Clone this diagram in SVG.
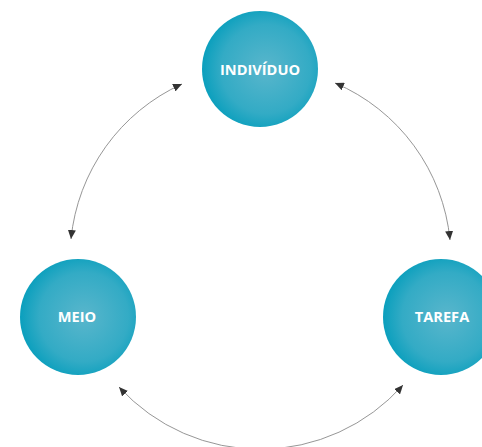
<svg xmlns="http://www.w3.org/2000/svg" width="482" height="447" viewBox="0 0 482 447">
  <style>
    .node circle { fill: url(#g); }
    .node text { font-family: "Open Sans", "Liberation Sans", sans-serif; font-weight: 700; font-size: 14.6px; fill: #ffffff; text-anchor: middle; }
    .conn path { fill: none; stroke: #8a8a8a; stroke-width: 0.9; marker-start: url(#ah); marker-end: url(#ah); }
  </style>
  <defs>
    <radialGradient id="g" cx="0.55" cy="0.5" r="0.55">
      <stop offset="0" stop-color="#59b6cc"/>
      <stop offset="0.7" stop-color="#33abc5"/>
      <stop offset="1" stop-color="#0a9fbd"/>
    </radialGradient>
    <marker id="ah" viewBox="0 0 9 8" refX="9" refY="4" markerWidth="9" markerHeight="8" markerUnits="userSpaceOnUse" orient="auto-start-reverse">
      <path d="M0,0 L9,4 L0,8 z" fill="#333333"/>
    </marker>
  </defs>
  <rect width="482" height="447" fill="#ffffff"/>
  <g id="connectors" class="conn">
    <path d="M 182 84 A 191 191 0 0 0 71 239"/>
    <path d="M 335 83 A 191 191 0 0 1 450 240"/>
    <path d="M 119 387 A 191 191 0 0 0 403 385"/>
  </g>
  <g id="individuo" class="node">
    <circle cx="260" cy="69" r="58"/>
    <text x="260" y="75">INDIVÍDUO</text>
  </g>
  <g id="meio" class="node">
    <circle cx="78" cy="317" r="58"/>
    <text x="77" y="322">MEIO</text>
  </g>
  <g id="tarefa" class="node">
    <circle cx="441" cy="317" r="58"/>
    <text x="442" y="322">TAREFA</text>
  </g>
</svg>
